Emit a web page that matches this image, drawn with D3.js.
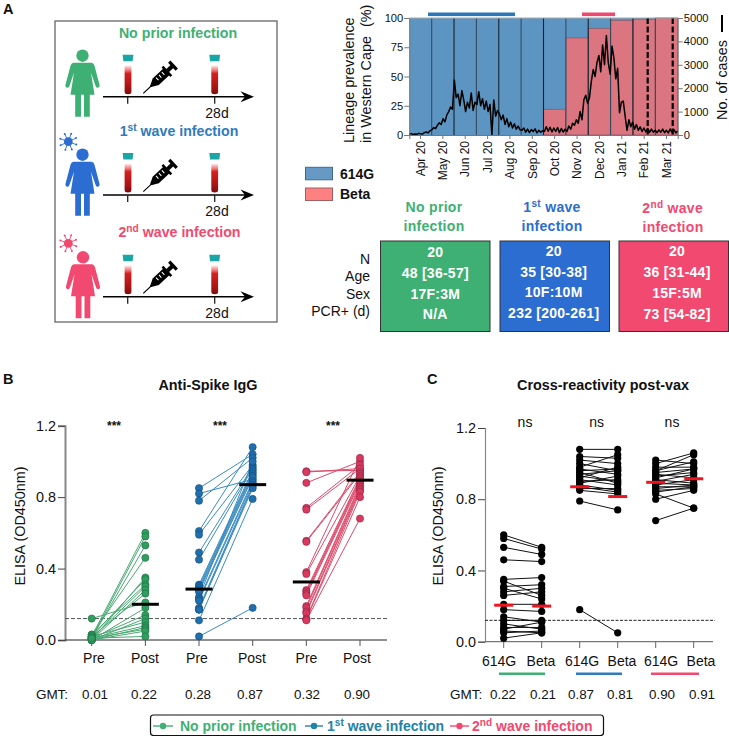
<!DOCTYPE html>
<html><head><meta charset="utf-8">
<script src="https://cdnjs.cloudflare.com/ajax/libs/d3/7.8.5/d3.min.js"></script>
<style>html,body{margin:0;padding:0;background:#fff}svg{display:block}text{font-family:"Liberation Sans",Arial,sans-serif;fill:#111}</style>
</head><body><svg id="c" width="729" height="736"></svg>
<script>
// ---------- data ----------
const months=["Apr 20","May 20","Jun 20","Jul 20","Aug 20","Sep 20","Oct 20","Nov 20","Dec 20","Jan 21","Feb 21","Mar 21"];
const betaPct=[0,0,0,0,0,0,22,83,91,98,99,100];
const cases=[30,60,20,40,30,70,50,40,100,130,90,180,
220,320,270,420,520,450,700,560,860,1000,1200,1100,
2350,1600,1750,1250,1900,1500,1000,1400,1150,1800,1050,1400,
1300,1850,1250,1550,1100,1450,1000,1300,0,1500,800,1050,
900,650,850,450,700,350,550,300,480,250,380,220,
200,300,120,250,100,230,150,260,90,200,120,180,
150,350,160,330,130,300,150,320,100,280,120,250,
150,380,250,500,420,650,500,1000,650,1500,1700,1350,
1600,2300,2800,2500,3100,3400,2700,3850,3000,4250,3100,2600,
3800,3300,2400,2850,950,1400,1450,800,200,650,350,550,
250,450,200,350,150,300,130,280,110,250,120,200,
100,220,120,250,100,200,90,260,110,230,90,170];
const leftTicks=[0,25,50,75,100], rightTicks=[0,1000,2000,3000,4000,5000];
const noPriorPre=[0.02,0.01,0.01,0.03,0.00,0.02,0.03,0.01,0.00,0.02,0.12,0.00,0.01,0.00,0.02,0.01,0.00,0.01,0.00,0.01];
const noPriorPost=[0.60,0.58,0.53,0.46,0.35,0.34,0.31,0.30,0.28,0.26,0.21,0.18,0.14,0.12,0.10,0.08,0.07,0.06,0.05,0.02];
const noPriorBeta=[0.53,0.52,0.49,0.45,0.36,0.26,0.32,0.24,0.30,0.28,0.21,0.17,0.11,0.12,0.07,0.08,0.11,0.05,0.06,0.05];
const firstPre=[0.85,0.82,0.78,0.61,0.59,0.49,0.45,0.31,0.30,0.29,0.28,0.27,0.24,0.23,0.22,0.18,0.17,0.17,0.11,0.02];
const firstPost=[1.04,0.90,1.02,1.08,0.98,0.97,0.96,0.95,0.94,0.93,0.92,0.91,1.00,0.89,0.88,0.87,0.86,0.85,0.79,0.18];
const firstBeta=[1.03,0.91,1.00,1.08,1.05,0.94,0.97,0.89,0.96,0.90,0.98,0.88,0.96,0.93,0.85,0.84,0.86,0.83,0.74,0.05];
const secondPre=[0.945,0.94,0.88,0.74,0.73,0.555,0.55,0.38,0.37,0.28,0.27,0.26,0.25,0.19,0.18,0.16,0.15,0.12,0.115,0.11];
const secondPost=[0.95,0.96,1.00,0.98,0.96,0.94,0.93,1.02,0.92,0.91,0.90,0.89,0.88,0.87,0.86,0.85,0.84,0.83,0.80,0.68];
const secondBeta=[0.97,1.01,1.06,0.98,1.05,0.92,0.95,1.00,0.97,0.89,0.94,0.88,0.91,0.87,0.88,0.86,0.87,0.75,0.85,0.75];
const barB=[null,0.20,0.285,0.87,0.325,0.895];
const barC=[0.205,0.20,0.87,0.815,0.895,0.915];
const labelsB=["Pre","Post","Pre","Post","Pre","Post"];
const labelsC=["614G","Beta","614G","Beta","614G","Beta"];
const gmtB=["0.01","0.22","0.28","0.87","0.32","0.90"];
const gmtC=["0.22","0.21","0.87","0.81","0.90","0.91"];
const yTicksElisa=[0,0.4,0.8,1.2];
const tableRows=["N","Age","Sex","PCR+ (d)"];
const tableNoPrior=["20","48 [36-57]","17F:3M","N/A"];
const tableFirst=["20","35 [30-38]","10F:10M","232 [200-261]"];
const tableSecond=["20","36 [31-44]","15F:5M","73 [54-82]"];
// ---------- helpers ----------
const GREEN="#3fb073",BLUE="#2b6dd0",RED="#f1496f",TBLUE="#2f7bbd";
const svg=d3.select("#c");
function T(x,y,s,o={}){const t=svg.append("text").attr("x",x).attr("y",y).attr("dy","0.35em").text(s)
 .attr("font-size",o.size||14).attr("text-anchor",o.anchor||"middle");
 if(o.bold)t.attr("font-weight","bold");if(o.fill)t.style("fill",o.fill);
 if(o.ls)t.attr("letter-spacing",o.ls);
 if(o.rot!=null)t.attr("transform",`rotate(${o.rot} ${x} ${y})`);return t;}
function sup(x,y,a,b,c,o){const t=svg.append("text").attr("x",x).attr("y",y).attr("dy","0.35em").attr("text-anchor",o.anchor||"middle")
 .attr("font-size",o.size||14).attr("font-weight","bold").style("fill",o.fill);
 if(o.ls)t.attr("letter-spacing",o.ls);
 t.append("tspan").text(a);t.append("tspan").text(b).attr("dy",-4.5).attr("font-size",(o.size||14)*0.72);
 t.append("tspan").text(c).attr("dy",4.5);return t;}
const defs=svg.append("defs");
const g=defs.append("linearGradient").attr("id","blood").attr("x1",0).attr("x2",0).attr("y1",0).attr("y2",1);
[[0,"#fbe6e6"],[0.18,"#ee6a6a"],[0.27,"#d42020"],[0.75,"#a81414"],[1,"#7a0c0c"]].forEach(d=>g.append("stop").attr("offset",d[0]).attr("stop-color",d[1]));
// ---------- panel A schematic ----------
T(3,9,"A",{size:14.5,bold:true,anchor:"start"});
svg.append("rect").attr("x",55).attr("y",21).attr("width",222).attr("height",301).attr("fill","#fff").attr("stroke","#666").attr("stroke-width",1.3);
const personPath="M-9,7L9,7Q11,7 12,10L17,29Q17.5,31.5 15,32Q13.5,32 13,30L8.5,17L12,39L7.3,39L7.3,61L1.5,61L1.5,39L-1.5,39L-1.5,61L-7.3,61L-7.3,39L-12,39L-8.5,17L-13,30Q-13.5,32 -15,32Q-17.5,31.5 -17,29L-12,10Q-11,7 -9,7Z";
function person(x,y,c){const p=svg.append("g").attr("transform",`translate(${x},${y})`);
 p.append("circle").attr("r",6.2).attr("fill",c);p.append("path").attr("d",personPath).attr("fill",c);}
function tube(x,ly){const p=svg.append("g").attr("transform",`translate(${x},${ly})`);
 p.append("path").attr("d","M-5.4,-42L5.4,-42L4.6,-35.5L-4.6,-35.5Z").attr("fill","#1ba6a6");
 p.append("path").attr("d","M-3.4,-31L3.4,-31L3.4,-5Q3.4,-2.5 0,-2.5Q-3.4,-2.5 -3.4,-5Z").attr("fill","url(#blood)");}
function syringe(x,y){const p=svg.append("g").attr("transform",`translate(${x},${y}) rotate(-43)`);
 p.append("line").attr("x2",14).attr("stroke","#000").attr("stroke-width",1.1);
 p.append("path").attr("d","M10,-0.8L17,-4.5L32,-4.5L32,4.5L17,4.5L10,0.8Z").attr("fill","#000");
 [20,24,28].forEach(d=>p.append("line").attr("x1",d).attr("x2",d).attr("y1",-2.8).attr("y2",0.8).attr("stroke","#fff").attr("stroke-width",1.1));
 p.append("rect").attr("x",31).attr("y",-6.5).attr("width",2.5).attr("height",13).attr("fill","#000");
 p.append("rect").attr("x",33).attr("y",-2).attr("width",7).attr("height",4).attr("fill","#000");
 p.append("rect").attr("x",39).attr("y",-5.5).attr("width",3.2).attr("height",11).attr("fill","#000");}
function virus(x,y,c){const p=svg.append("g").attr("transform",`translate(${x},${y})`);
 p.append("circle").attr("r",4.4).attr("fill",c);
 d3.range(8).forEach(i=>{const a=i*Math.PI/4+0.35;const ex=8.5*Math.cos(a),ey=8.5*Math.sin(a);
  p.append("line").attr("x2",ex).attr("y2",ey).attr("stroke",c).attr("stroke-width",0.9);
  p.append("circle").attr("cx",ex).attr("cy",ey).attr("r",1).attr("fill",c);});}
function lane(ly,tx){
 svg.append("line").attr("x1",103).attr("x2",248).attr("y1",ly).attr("y2",ly).attr("stroke","#000").attr("stroke-width",1.6);
 svg.append("path").attr("d",`M254,${ly}L240.5,${ly-5.5}L245,${ly}L240.5,${ly+5.5}Z`).attr("fill","#000");
 [127.7,214.7].forEach(x=>svg.append("line").attr("x1",x).attr("x2",x).attr("y1",ly).attr("y2",ly+7).attr("stroke","#222").attr("stroke-width",1.3));
 tube(128,ly);tube(214.7,ly);syringe(143.3,ly-3.4);
 T(217,tx,"28d",{size:14});
}
T(178,32.7,"No prior infection",{bold:true,fill:GREEN,size:14.2});
sup(179,130.7,"1","st"," wave infection",{fill:TBLUE,size:14.2});
sup(179.5,231.7,"2","nd"," wave infection",{fill:RED,size:14.2});
person(82.5,55.7,GREEN);person(82.5,154.7,BLUE);person(83,257.3,RED);
virus(68.3,141.7,BLUE);virus(68.3,243.3,RED);
lane(96.7,113);lane(195,210.7);lane(296.7,312.7);
// ---------- lineage chart ----------
const x0=409.3,x1=677.7,yb=135,yt=18;
const band=d3.scaleBand().domain(months).range([x0,x1]).padding(0);
const yPct=d3.scaleLinear().domain([0,100]).range([yb,yt]);
const yCases=d3.scaleLinear().domain([0,5000]).range([yb,yt]);
svg.append("g").selectAll("rect").data(months).join("rect").attr("x",d=>band(d)).attr("width",band.bandwidth()).attr("y",yt).attr("height",yb-yt).attr("fill","#5c94c2");
svg.append("g").selectAll("rect").data(months).join("rect").attr("x",d=>band(d)).attr("width",band.bandwidth())
 .attr("y",(d,i)=>yPct(betaPct[i])).attr("height",(d,i)=>yb-yPct(betaPct[i])).attr("fill","#db7681").attr("stroke","#8a5a68").attr("stroke-width",(d,i)=>betaPct[i]?0.8:0);
months.forEach((m,i)=>{if(i>0)svg.append("line").attr("x1",band(m)).attr("x2",band(m)).attr("y1",yt).attr("y2",yb).attr("stroke",i%2?"#35495e":"#12202c").attr("stroke-width",1.1);});
[647.7,672.7].forEach(x=>svg.append("line").attr("x1",x).attr("x2",x).attr("y1",yt).attr("y2",yb).attr("stroke","#000").attr("stroke-width",2.2).attr("stroke-dasharray","6 2.5"));
const xDay=d3.scaleLinear().domain([0,cases.length-1]).range([x0,x1]);
svg.append("path").attr("d",d3.line().x((d,i)=>xDay(i)).y(d=>yCases(d))(cases)).attr("fill","none").attr("stroke","#000").attr("stroke-width",1.5).attr("stroke-linejoin","round");
const axL=svg.append("g").attr("transform",`translate(${x0},0)`).call(d3.axisLeft(yPct).tickValues(leftTicks).tickSize(5).tickPadding(1));
const axR=svg.append("g").attr("transform",`translate(${x1},0)`).call(d3.axisRight(yCases).tickValues(rightTicks).tickFormat(d3.format("d")).tickSize(5).tickPadding(1));
const axM=svg.append("g").attr("transform",`translate(0,${yb})`).call(d3.axisBottom(band).tickSize(4).tickPadding(3));
[axL,axR,axM].forEach(a=>{a.selectAll("path,line").attr("stroke","#777").attr("stroke-width",1);a.selectAll("text").attr("font-size",11.2).style("font-family",'"Liberation Sans",sans-serif');});
axM.selectAll("text").attr("font-size",12).attr("transform","rotate(-90)").attr("text-anchor","end").attr("x",-6).attr("y",0).attr("dy","0.35em");
svg.append("line").attr("x1",x0).attr("x2",x1).attr("y1",yt).attr("y2",yt).attr("stroke","#aaa").attr("stroke-width",1.2);
svg.append("rect").attr("x",428).attr("y",12.5).attr("width",87).attr("height",3.6).attr("fill","#2b78b8");
svg.append("rect").attr("x",582).attr("y",12.5).attr("width",33).attr("height",3.6).attr("fill","#f0486e");
T(349,143,"Lineage prevalence",{anchor:"start",rot:-90,size:14.4});
T(366,143,"in Western Cape",{anchor:"start",rot:-90,size:14.4});
T(366,27,"(%)",{anchor:"start",rot:-90,size:14.4});
T(722,120,"No. of cases",{anchor:"start",rot:-90,size:14.4});
svg.append("line").attr("x1",722).attr("x2",722).attr("y1",15).attr("y2",32).attr("stroke","#000").attr("stroke-width",2);
// legend swatches
[[167.3,"#6699c4","#3f6a90","614G"],[188,"#ff8080","#a06060","Beta"]].forEach(d=>{
 svg.append("rect").attr("x",305.5).attr("y",d[0]).attr("width",27).attr("height",12.5).attr("fill",d[1]).attr("stroke",d[2]).attr("stroke-width",1);
 T(340,d[0]+6.3,d[3],{bold:true,anchor:"start",size:14});});
// ---------- cohort table ----------
T(434,207,"No prior",{bold:true,fill:GREEN,ls:0.3});T(434,226,"infection",{bold:true,fill:GREEN,ls:0.3});
sup(552,206.7,"1","st"," wave",{fill:BLUE,ls:0.3});T(552,226,"infection",{bold:true,fill:BLUE,ls:0.3});
sup(672.7,208,"2","nd"," wave",{fill:RED,ls:0.3});T(673,227,"infection",{bold:true,fill:RED,ls:0.3});
[258.7,276,293.7,311].forEach((y,i)=>T(370,y,tableRows[i],{anchor:"end",size:14}));
[[380.5,GREEN,tableNoPrior,435.3,[251.7,273,293.7,314.3]],[500,BLUE,tableFirst,553.7,[251,271.7,292.3,313]],[619,RED,tableSecond,677,[251,272.3,292.7,313.7]]].forEach(d=>{
 svg.append("rect").attr("x",d[0]).attr("y",241).attr("width",109.5).attr("height",90.5).attr("fill",d[1]).attr("stroke","#333").attr("stroke-width",1);
 d[2].forEach((s,i)=>T(d[3],d[4][i],s,{bold:true,fill:"#fff",size:14,ls:0.25}));});
// ---------- panel B ----------
T(3,379,"B",{size:14.5,bold:true,anchor:"start"});T(427,379,"C",{size:14.5,bold:true,anchor:"start"});
T(208,385,"Anti-Spike IgG",{bold:true,size:14.4});T(603,385,"Cross-reactivity post-vax",{bold:true,size:14.4});
const xB=d3.scalePoint().domain(d3.range(6)).range([91.7,360]);
const yB=d3.scaleLinear().domain([0,1.2]).range([640,425.7]);
const styleB=[{f:"#2f9e5f",s:"#1f6b42",l:"#4aa973"},{f:"#1f6fae",s:"#124a78",l:"#3a8bc0"},{f:"#d9395f",s:"#8e2340",l:"#dc4a6a"}];
const pairsB=[[noPriorPre,noPriorPost],[firstPre,firstPost],[secondPre,secondPost]];
function axesElisa(y,xl,xr,colY,w){
 const a=svg.append("g").attr("transform",`translate(${xl},0)`).call(d3.axisLeft(y).tickValues(yTicksElisa).tickFormat(d3.format(".1f")).tickSize(7).tickPadding(2));
 a.select("path").attr("stroke","#888").attr("stroke-width",w);a.selectAll("line").attr("stroke","#444");
 a.selectAll("text").attr("font-size",14.4).style("font-family",'"Liberation Sans",sans-serif');
 svg.append("line").attr("x1",xl).attr("x2",xr).attr("y1",y(0)).attr("y2",y(0)).attr("stroke",colY).attr("stroke-width",1.2);
}
axesElisa(yB,65,387,"#222",2);
svg.append("line").attr("x1",65).attr("x2",387).attr("y1",yB(0.12)).attr("y2",yB(0.12)).attr("stroke","#555").attr("stroke-width",1).attr("stroke-dasharray","4 2");
xB.domain().forEach(i=>svg.append("line").attr("x1",xB(i)).attr("x2",xB(i)).attr("y1",640).attr("y2",646).attr("stroke","#555"));
pairsB.forEach((p,k)=>{const st=styleB[k];const a=xB(k*2),b=xB(k*2+1);
 p[0].forEach((v,i)=>svg.append("line").attr("x1",a).attr("x2",b).attr("y1",yB(v)).attr("y2",yB(p[1][i])).attr("stroke",st.l).attr("stroke-width",1));
 [[a,p[0]],[b,p[1]]].forEach(c=>svg.append("g").selectAll("circle").data(c[1]).join("circle").attr("cx",c[0]).attr("cy",d=>yB(d)).attr("r",3.6).attr("fill",st.f).attr("stroke",st.s).attr("stroke-width",0.6));
});
barB.forEach((v,i)=>{if(v!=null)svg.append("line").attr("x1",xB(i)-13.5).attr("x2",xB(i)+13.5).attr("y1",yB(v)).attr("y2",yB(v)).attr("stroke","#000").attr("stroke-width",3);});
[94,145,197,252,306.5,357].forEach((x,i)=>T(x,658,labelsB[i],{size:14}));
T(52,694,"GMT:",{size:13.5});
[95,144,198,250,307,357].forEach((x,i)=>T(x,694,gmtB[i],{size:13.4}));
[114,220,333].forEach(x=>T(x,426,"***",{size:12,bold:true}));
T(20,526,"ELISA (OD450nm)",{rot:-90,size:14.4});
// ---------- panel C ----------
const xC=d3.scalePoint().domain(d3.range(6)).range([503.7,693.7]);
const yC=d3.scaleLinear().domain([0,1.2]).range([641.7,428]);
axesElisa(yC,485,713,"#777",1.2);
svg.append("line").attr("x1",485).attr("x2",715).attr("y1",yC(0.12)).attr("y2",yC(0.12)).attr("stroke","#222").attr("stroke-width",1).attr("stroke-dasharray","3 1.5");
xC.domain().forEach(i=>svg.append("line").attr("x1",xC(i)).attr("x2",xC(i)).attr("y1",641.7).attr("y2",648).attr("stroke","#666"));
[[noPriorPost,noPriorBeta],[firstPost,firstBeta],[secondPost,secondBeta]].forEach((p,k)=>{const a=xC(k*2),b=xC(k*2+1);
 p[0].forEach((v,i)=>svg.append("line").attr("x1",a).attr("x2",b).attr("y1",yC(v)).attr("y2",yC(p[1][i])).attr("stroke","#111").attr("stroke-width",1));
 [[a,p[0]],[b,p[1]]].forEach(c=>svg.append("g").selectAll("circle").data(c[1]).join("circle").attr("cx",c[0]).attr("cy",d=>yC(d)).attr("r",3.6).attr("fill","#000"));
});
barC.forEach((v,i)=>svg.append("line").attr("x1",xC(i)-9.5).attr("x2",xC(i)+9.5).attr("y1",yC(v)).attr("y2",yC(v)).attr("stroke","#f0141e").attr("stroke-width",3));
[499,541,582,622,661,701].forEach((x,i)=>T(x,661,labelsC[i],{size:14}));
T(450,694,"GMT:",{size:13.5,anchor:"start"});
[503,543,581,620,662,702].forEach((x,i)=>T(x,694,gmtC[i],{size:13.4}));
[[499,545,GREEN],[576,622,"#2f7bbd"],[651,699,RED]].forEach(d=>svg.append("line").attr("x1",d[0]).attr("x2",d[1]).attr("y1",673.7).attr("y2",673.7).attr("stroke",d[2]).attr("stroke-width",2.4));
[525,596.7,672].forEach(x=>T(x,422,"ns",{size:14}));
T(438,526,"ELISA (OD450nm)",{rot:-90,size:14.4});
// ---------- bottom legend ----------
svg.append("rect").attr("x",150.5).attr("y",715).attr("width",453).attr("height",20.5).attr("rx",3).attr("fill","#fff").attr("stroke","#111").attr("stroke-width",1.2);
[[153,173,GREEN],[305,323,"#2382a8"],[450,469,RED]].forEach(d=>{
 svg.append("line").attr("x1",d[0]).attr("x2",d[1]).attr("y1",726).attr("y2",726).attr("stroke",d[2]).attr("stroke-width",1.4);
 svg.append("circle").attr("cx",(d[0]+d[1])/2).attr("cy",726).attr("r",3.2).attr("fill",d[2]);});
T(180,726,"No prior infection",{bold:true,fill:GREEN,anchor:"start",size:14});
sup(327,726,"1","st"," wave infection",{fill:"#2382a8",anchor:"start",size:14});
sup(472,726,"2","nd"," wave infection",{fill:RED,anchor:"start",size:14});
</script></body></html>
